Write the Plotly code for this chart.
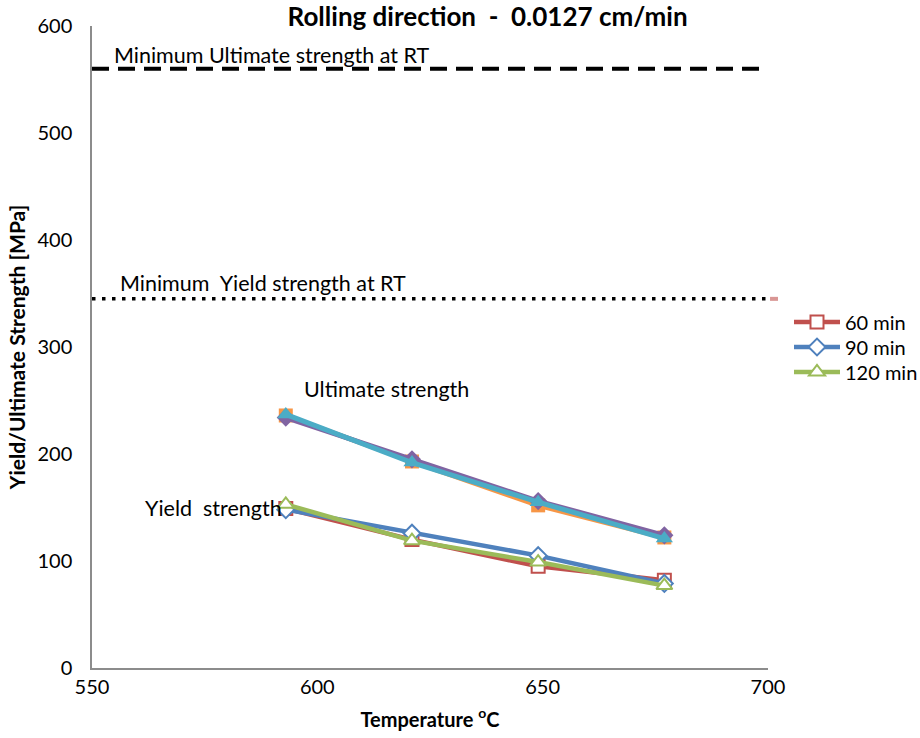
import plotly.graph_objects as go

temps = [593, 621, 649, 677]

# Yield strength (MPa)
ys_60 = [149, 120, 95, 82]
ys_90 = [148, 126, 105, 79]
ys_120 = [153, 119, 99, 77]

# Ultimate strength (MPa)
uts_60 = [236, 193, 152, 122]
uts_90 = [234, 195, 156, 124]
uts_120 = [237, 192, 155, 121]

min_uts_x = [550, 700]
min_uts = [560, 560]
min_ys_x = [550, 700]
min_ys = [345, 345]

FONT = "Lato"
NB = "\u00a0"

fig = go.Figure()

# reference lines
fig.add_trace(go.Scatter(x=min_uts_x, y=min_uts, mode="lines",
                         line=dict(color="black", width=4, dash="17px,9px"),
                         showlegend=False, hoverinfo="skip"))
fig.add_trace(go.Scatter(x=min_ys_x, y=min_ys, mode="lines",
                         line=dict(color="black", width=3.5, dash="3.5px,6.5px"),
                         showlegend=False, hoverinfo="skip"))

# ultimate strength series
fig.add_trace(go.Scatter(x=temps, y=uts_60, mode="lines+markers",
                         line=dict(color="#F79646", width=5),
                         marker=dict(symbol="square", size=14, color="#F79646"),
                         showlegend=False))
fig.add_trace(go.Scatter(x=temps, y=uts_90, mode="lines+markers",
                         line=dict(color="#8064A2", width=5),
                         marker=dict(symbol="diamond", size=14, color="#8064A2"),
                         showlegend=False))
fig.add_trace(go.Scatter(x=temps, y=uts_120, mode="lines+markers",
                         line=dict(color="#4BACC6", width=5),
                         marker=dict(symbol="triangle-up", size=15, color="#4BACC6"),
                         showlegend=False))

# yield strength series
fig.add_trace(go.Scatter(x=temps, y=ys_60, mode="lines+markers", name="60 min",
                         legend="legend",
                         line=dict(color="#C0504D", width=4.5),
                         marker=dict(symbol="square", size=13, color="white",
                                     line=dict(color="#C0504D", width=2))))
fig.add_trace(go.Scatter(x=temps, y=ys_90, mode="lines+markers", name="90 min",
                         legend="legend2",
                         line=dict(color="#4F81BD", width=4.5),
                         marker=dict(symbol="diamond", size=13, color="white",
                                     line=dict(color="#4F81BD", width=2))))
fig.add_trace(go.Scatter(x=temps, y=ys_120, mode="lines+markers", name="120 min",
                         legend="legend3",
                         line=dict(color="#9BBB59", width=4.5),
                         marker=dict(symbol="triangle-up", size=14, color="white",
                                     line=dict(color="#9BBB59", width=2))))

# small pink mark just right of the plot at the yield-line level
fig.add_shape(type="line", xref="paper", yref="paper", x0=1.003, x1=1.0148,
              y0=345 / 600, y1=345 / 600,
              line=dict(color="#D99694", width=4))

annots = [
    dict(x=554.5, y=560, text="Minimum Ultimate strength at RT", yshift=14),
    dict(x=555.8, y=345, text="Minimum" + NB + NB + "Yield strength at RT", yshift=16),
    dict(x=596.5, y=236, text="Ultimate strength", yshift=26),
    dict(x=561.3, y=148, text="Yield" + NB + NB + "strength", yshift=2),
]
for a in annots:
    fig.add_annotation(x=a["x"], y=a["y"], text=a["text"], showarrow=False,
                       xanchor="left", yanchor="middle", yshift=a["yshift"],
                       font=dict(family=FONT, size=21.5, color="black"))

def leg(ypix):
    return dict(xref="container", yref="container", x=789 / 920, y=1 - ypix / 738,
                xanchor="left", yanchor="middle", bgcolor="rgba(0,0,0,0)",
                font=dict(family=FONT, size=20, color="black"), itemwidth=46)

fig.update_layout(
    width=920, height=738,
    margin=dict(l=92, r=152, t=26, b=70, autoexpand=False),
    paper_bgcolor="white", plot_bgcolor="white",
    title=dict(text="<b>Rolling direction" + NB + NB + "-" + NB + NB + "0.0127 cm/min</b>",
               x=0.53, xanchor="center", y=0.99, yanchor="top",
               font=dict(family=FONT, size=26, color="black")),
    font=dict(family=FONT, size=19, color="#222"),
    legend=leg(322),
    legend2=leg(347),
    legend3=leg(372),
    xaxis=dict(range=[550, 700], tickvals=[550, 600, 650, 700], showgrid=False,
               zeroline=False, showline=True, linecolor="#8c8c8c", linewidth=1.5,
               automargin=False,
               ticks="", tickfont=dict(family=FONT, size=20, color="black"),
               title=dict(text="<b>Temperature <sup>o</sup>C</b>", standoff=16,
                          font=dict(family=FONT, size=20, color="black"))),
    yaxis=dict(range=[0, 600], tickvals=[0, 100, 200, 300, 400, 500, 600], showgrid=False,
               zeroline=False, showline=True, linecolor="#8c8c8c", linewidth=1.5,
               automargin=False,
               ticks="", ticklabelstandoff=14, tickfont=dict(family=FONT, size=20, color="black"),
               title=dict(text="<b>Yield/Ultimate Strength [MPa]</b>", standoff=6,
                          font=dict(family=FONT, size=21, color="black"))),
)

fig.write_html("out.html")
